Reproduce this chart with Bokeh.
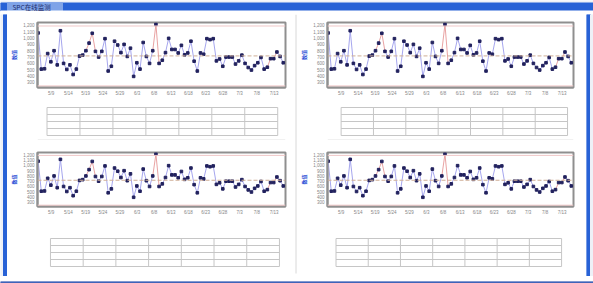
from bokeh.plotting import figure
from bokeh.layouts import column, row
from bokeh.models import Range1d, FixedTicker, NumeralTickFormatter, Span
from bokeh.core.properties import value
from bokeh.embed import file_html
from bokeh.resources import INLINE

# ---------------- data ----------------
title_text = "SPC在线监测"
y_label = "数值"
values = [1080, 510, 515, 755, 625, 800, 577, 1115, 600, 505,
          577, 425, 510, 715, 730, 800, 920, 1075, 790, 700,
          790, 990, 480, 555, 950, 890, 770, 900, 710, 840,
          395, 610, 510, 930, 710, 600, 800, 1215, 600, 650,
          770, 995, 820, 820, 765, 885, 735, 765, 950, 635,
          480, 765, 745, 990, 975, 990, 640, 670, 555, 700,
          700, 700, 590, 640, 730, 600, 535, 495, 565, 610,
          695, 510, 540, 675, 675, 780, 710, 610]
sample_no = list(range(1, len(values) + 1))
alarm_segment_starts = [16, 17, 18, 37, 38, 73, 74, 75]
ucl = 1190
center_line = 718
lcl = 245
y_ticks = [300, 400, 500, 600, 700, 800, 900, 1000, 1100, 1200]
x_tick_pos = [5.1, 10.5, 15.9, 21.3, 26.7, 32.1, 37.4, 42.8, 48.2, 53.6, 59.0, 64.3, 69.7, 75.1]
x_tick_labels = ["5/9", "5/14", "5/19", "5/24", "5/29", "6/3", "6/8",
                 "6/13", "6/18", "6/23", "6/28", "7/3", "7/8", "7/13"]

# ---------------- styles ----------------
CJK = "Noto Sans CJK SC"
LINE_COL = "#a6a6ee"
ALARM_COL = "#e9a3a3"
MARK_COL = "#22225e"
FRAME_COL = "#8f8f8f"
BLUE = "#2862d6"
TABLE_COL = "#c6c6c6"
TICK_COL = "#858585"


def base_fig(w, h):
    p = figure(width=w, height=h, output_backend="svg", toolbar_location=None,
               x_range=Range1d(0, w), y_range=Range1d(h, 0), min_border=0,
               x_axis_location=None, y_axis_location=None)
    p.grid.visible = False
    p.outline_line_color = None
    p.background_fill_color = "white"
    p.border_fill_color = "white"
    return p


def make_chart(w, h, bl, br, bt, bb):
    p = figure(width=w, height=h, output_backend="svg", toolbar_location=None,
               x_range=Range1d(0.8, 78.7), y_range=Range1d(220, 1245),
               min_border_left=bl, min_border_right=br,
               min_border_top=bt, min_border_bottom=bb)
    p.background_fill_color = "white"
    p.border_fill_color = "white"
    p.grid.visible = False
    p.outline_line_color = FRAME_COL
    p.outline_line_width = 2

    ya = p.yaxis[0]
    ya.ticker = FixedTicker(ticks=y_ticks)
    ya.formatter = NumeralTickFormatter(format="0,0")
    ya.axis_label = y_label
    ya.axis_label_text_font = CJK
    ya.axis_label_text_font_size = "5px"
    ya.axis_label_text_color = "#2d4fd6"
    ya.axis_label_text_font_style = "bold"
    ya.axis_label_standoff = 3
    ya.major_label_text_font_size = "4.5px"
    ya.major_label_text_color = TICK_COL
    ya.major_label_standoff = 3

    xa = p.xaxis[0]
    xa.ticker = FixedTicker(ticks=x_tick_pos)
    xa.major_label_overrides = {t: l for t, l in zip(x_tick_pos, x_tick_labels)}
    xa.major_label_text_font_size = "4.5px"
    xa.major_label_text_color = TICK_COL
    xa.major_label_standoff = 3

    for ax in (xa, ya):
        ax.axis_line_color = FRAME_COL
        ax.axis_line_width = 2
        ax.major_tick_line_color = None
        ax.minor_tick_line_color = None
        ax.major_tick_out = 0
        ax.major_tick_in = 0
        ax.minor_tick_out = 0
        ax.minor_tick_in = 0

    p.add_layout(Span(location=ucl, dimension="width", line_color="#f0c8c8", line_width=1))
    p.add_layout(Span(location=lcl, dimension="width", line_color="#f0c8c8", line_width=1))
    p.add_layout(Span(location=center_line, dimension="width", line_color="#cfae96",
                      line_width=1, line_dash="4 2"))

    x0 = sample_no[:-1]
    x1 = sample_no[1:]
    y0 = values[:-1]
    y1 = values[1:]
    cols = [ALARM_COL if s in alarm_segment_starts else LINE_COL for s in x0]
    p.segment(x0=x0, y0=y0, x1=x1, y1=y1, line_color=cols, line_width=1)
    p.scatter(sample_no, values, marker="square", size=2.6, color=MARK_COL)
    return p


def make_table(w, h, left, right, top, row_h=7, n_rows=4, n_cols=7, divider=False):
    p = base_fig(w, h)
    ys = [top + i * row_h for i in range(n_rows + 1)]
    xs = [left + (right - left) * j / n_cols for j in range(n_cols + 1)]
    p.multi_line(xs=[[left, right] for _ in ys], ys=[[y, y] for y in ys],
                 line_color=TABLE_COL, line_width=1)
    p.multi_line(xs=[[x, x] for x in xs], ys=[[ys[0], ys[-1]] for _ in xs],
                 line_color=TABLE_COL, line_width=1)
    if divider:
        p.segment(x0=[0], y0=[h - 0.5], x1=[w], y1=[h - 0.5], line_color="#e2e2e2", line_width=1)
    return p


# title bar (14 px tall so the title text has room)
title_fig = base_fig(593, 14)
title_fig.background_fill_color = "#eef1f7"
title_fig.border_fill_color = "#eef1f7"
title_fig.quad(left=[0], right=[593], top=[2.5], bottom=[10.5], color=BLUE)
title_fig.quad(left=[7], right=[62], top=[2.5], bottom=[10.5], color="#7fa3e8")
title_fig.quad(left=[0], right=[593], top=[10.5], bottom=[14], color="white")
title_fig.text(x=[12], y=[6.6], text=[title_text], text_font=value(CJK),
               text_font_size="6.5px", text_color="#1c2b6b", text_baseline="middle")

# side strips
left_strip = base_fig(7, 262)
left_strip.quad(left=[0], right=[3], top=[0], bottom=[262], color="#eef1f7")
left_strip.quad(left=[3], right=[7], top=[0], bottom=[262], color=BLUE)

right_strip = base_fig(7, 262)
right_strip.quad(left=[0], right=[4], top=[0], bottom=[262], color=BLUE)
right_strip.quad(left=[4], right=[7], top=[0], bottom=[262], color="#eef1f7")

divider = base_fig(3, 262)
divider.segment(x0=[1.5], y0=[0], x1=[1.5], y1=[259], line_color="#d8d8d8", line_width=1)

bottom_fig = base_fig(593, 7)
bottom_fig.background_fill_color = "#eef1f7"
bottom_fig.border_fill_color = "#eef1f7"
bottom_fig.quad(left=[0], right=[593], top=[0], bottom=[2.5], color="#3f63b8")

# panels
left_col = column(
    make_chart(287, 86, 28, 8, 8, 13),
    make_table(287, 40, 11, 278, 7, divider=True),
    make_chart(287, 77, 29, 9, 12, 10),
    make_table(287, 59, 15, 280, 21),
)
right_col = column(
    make_chart(289, 86, 27, 13, 8, 13),
    make_table(289, 40, 16, 282, 7, divider=True),
    make_chart(289, 77, 27, 13, 12, 10),
    make_table(289, 59, 10, 275, 21),
)

layout = column(title_fig,
                row(left_strip, left_col, divider, right_col, right_strip),
                bottom_fig)

open("out.html", "w").write(file_html(layout, INLINE))
